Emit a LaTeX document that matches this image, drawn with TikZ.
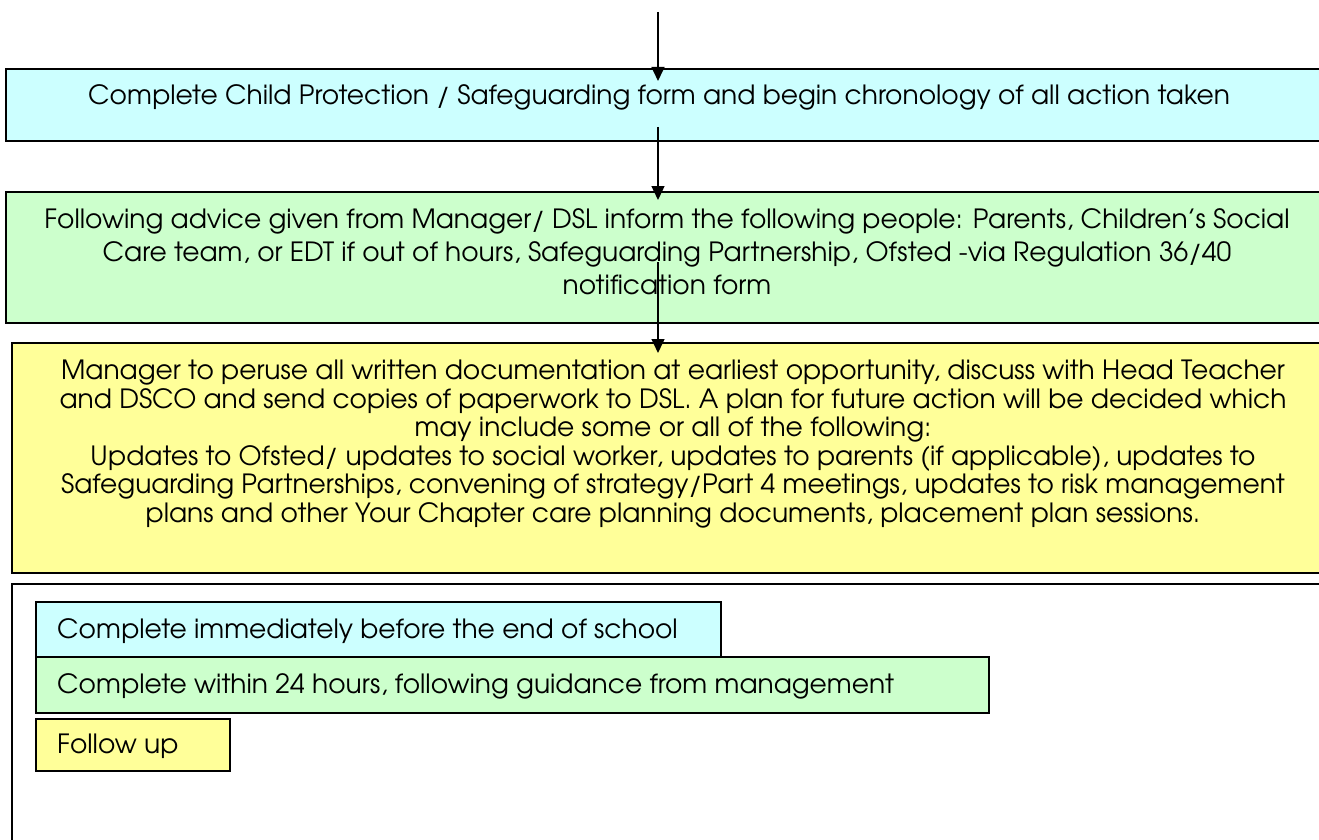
\documentclass[tikz,border=0pt]{standalone}
\usepackage{fontspec}
\setmainfont{TeX Gyre Adventor}
\usetikzlibrary{arrows.meta}
\definecolor{cpcyan}{HTML}{CCFFFF}
\definecolor{cpgreen}{HTML}{CCFFCC}
\definecolor{cpyellow}{HTML}{FFFF99}
\begin{document}
\begin{tikzpicture}[x=1pt,y=-1pt,
  box/.style={draw=black, line width=1.6pt, inner sep=0pt, anchor=north west},
  txt/.style={font=\fontsize{26.5}{28.5}\selectfont, align=center, inner sep=0pt},
  ltxt/.style={font=\fontsize{26.5}{28.5}\selectfont, anchor=west, inner sep=0pt},
  arr/.style={line width=1.4pt, -{Triangle[length=14pt,width=13pt]}}]
\useasboundingbox (0,0) rectangle (1319,840);
% main boxes
\node[box, fill=cpcyan,   minimum width=1400pt, minimum height=72pt]  (b1) at (5,68) {};
\node[box, fill=cpgreen,  minimum width=1400pt, minimum height=131pt] (b2) at (5,191) {};
\node[box, fill=cpyellow, minimum width=1400pt, minimum height=230pt] (b3) at (11,342) {};
\node[box, fill=white,    minimum width=1400pt, minimum height=300pt] (b4) at (11,583) {};
% texts
\node[txt] (t1) at (659,97) {Complete Child Protection / Safeguarding form and begin chronology of all action taken};
\node[txt, font=\fontsize{26.5}{33}\selectfont] (t2) at (667,252) {Following advice given from Manager/ DSL inform the following people: Parents, Children’s Social\\
Care team, or EDT if out of hours, Safeguarding Partnership, Ofsted -via Regulation 36/40\\
notification form};
\node[txt] (t3) at (673,444) {Manager to peruse all written documentation at earliest opportunity, discuss with Head Teacher\\
and DSCO and send copies of paperwork to DSL. A plan for future action will be decided which\\
may include some or all of the following:\\
Updates to Ofsted/ updates to social worker, updates to parents (if applicable), updates to\\
Safeguarding Partnerships, convening of strategy/Part 4 meetings, updates to risk management\\
plans and other Your Chapter care planning documents, placement plan sessions.};
% legend
\node[box, fill=cpcyan,   minimum width=685pt, minimum height=55pt] (l1) at (35,601) {};
\node[box, fill=cpgreen,  minimum width=953pt, minimum height=56pt] (l2) at (35,656) {};
\node[box, fill=cpyellow, minimum width=194pt, minimum height=52pt] (l3) at (35,718) {};
\node[ltxt] (lt1) at (57,631) {Complete immediately before the end of school};
\node[ltxt] (lt2) at (57,686) {Complete within 24 hours, following guidance from management};
\node[ltxt] (lt3) at (57,746) {Follow up};
% arrows
\coordinate (a1s) at (658,12);  \coordinate (a1e) at (658,81);
\coordinate (a2s) at (658,127); \coordinate (a2e) at (658,200);
\coordinate (a3s) at (658,262); \coordinate (a3e) at (658,353);
\draw[arr] (a1s) -- (a1e);
\draw[arr] (a2s) -- (a2e);
\draw[arr] (a3s) -- (a3e);
\end{tikzpicture}
\end{document}
